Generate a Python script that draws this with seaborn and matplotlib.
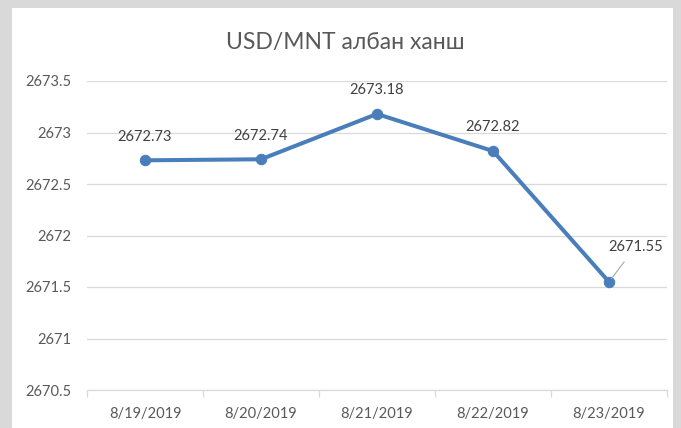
import numpy as np
import pandas as pd
import matplotlib
matplotlib.use("Agg")
import matplotlib.pyplot as plt
from matplotlib.patches import Rectangle
from matplotlib.ticker import FixedLocator
import seaborn as sns

# Chart data
dates = ["8/19/2019", "8/20/2019", "8/21/2019", "8/22/2019", "8/23/2019"]
rates = [2672.73, 2672.74, 2673.18, 2672.82, 2671.55]
y_ticks = [2670.5, 2671, 2671.5, 2672, 2672.5, 2673, 2673.5]
title = "USD/MNT албан ханш"

sns.set_theme(style="white")
plt.rcParams["font.family"] = ["Lato", "Noto Sans", "DejaVu Sans"]

df = pd.DataFrame({"date": dates, "rate": rates})

W, H = 681, 428
fig = plt.figure(figsize=(W / 100, H / 100), dpi=100)
fig.patch.set_facecolor("#d9d9d9")
# white chart panel behind the axes
fig.patches.append(Rectangle((12 / W, 0), (673 - 12) / W, 1 - 8 / H,
                             transform=fig.transFigure, facecolor="white",
                             edgecolor="none", zorder=-10))

ax = fig.add_axes([87 / W, 1 - 390 / H, (667 - 87) / W, (390 - 81) / H])
ax.set_facecolor("none")

line_color = "#4a7ebb"
sns.lineplot(data=df, x="date", y="rate", ax=ax, color=line_color,
             linewidth=2.9, marker="o", markersize=7.5,
             markeredgecolor=line_color, sort=False, zorder=3)

ax.set_xlim(-0.5, len(dates) - 0.5)
ax.set_ylim(y_ticks[0], y_ticks[-1])
ax.set_yticks(y_ticks)
ax.set_yticklabels([f"{v:g}" for v in y_ticks])
ax.yaxis.grid(True, color="#d9d9d9", linewidth=0.9)
ax.xaxis.grid(False)
ax.set_axisbelow(True)

ax.set_xticks(range(len(dates)))
ax.set_xticklabels(dates)
ax.xaxis.set_minor_locator(FixedLocator(np.arange(-0.5, len(dates), 1.0)))
ax.tick_params(axis="x", which="major", length=0, pad=12, labelsize=10.5,
               labelcolor="#595959")
ax.tick_params(axis="x", which="minor", length=5, width=0.9, color="#d9d9d9",
               direction="out", bottom=True)
ax.tick_params(axis="y", length=0, pad=11.5, labelsize=10.5, labelcolor="#595959")

for s in ["top", "right", "left"]:
    ax.spines[s].set_visible(False)
ax.spines["bottom"].set_color("#d9d9d9")
ax.spines["bottom"].set_linewidth(0.9)

ax.set_xlabel("")
ax.set_ylabel("")

# data labels
for i, v in enumerate(rates):
    if i == len(rates) - 1:
        ax.annotate(f"{v:.2f}", xy=(i, v), xytext=(19, 25),
                    textcoords="offset points", ha="center", va="center",
                    fontsize=10.5, color="#404040",
                    arrowprops=dict(arrowstyle="-", color="#a6a6a6",
                                    linewidth=0.8, shrinkA=4, shrinkB=3))
    else:
        ax.annotate(f"{v:.2f}", xy=(i, v), xytext=(0, 17),
                    textcoords="offset points", ha="center", va="center",
                    fontsize=10.5, color="#404040")

fig.text(345 / W, 1 - 42 / H, title, ha="center", va="center",
         fontsize=16.5, color="#595959")

fig.savefig("out.png", dpi=100, facecolor=fig.get_facecolor())
